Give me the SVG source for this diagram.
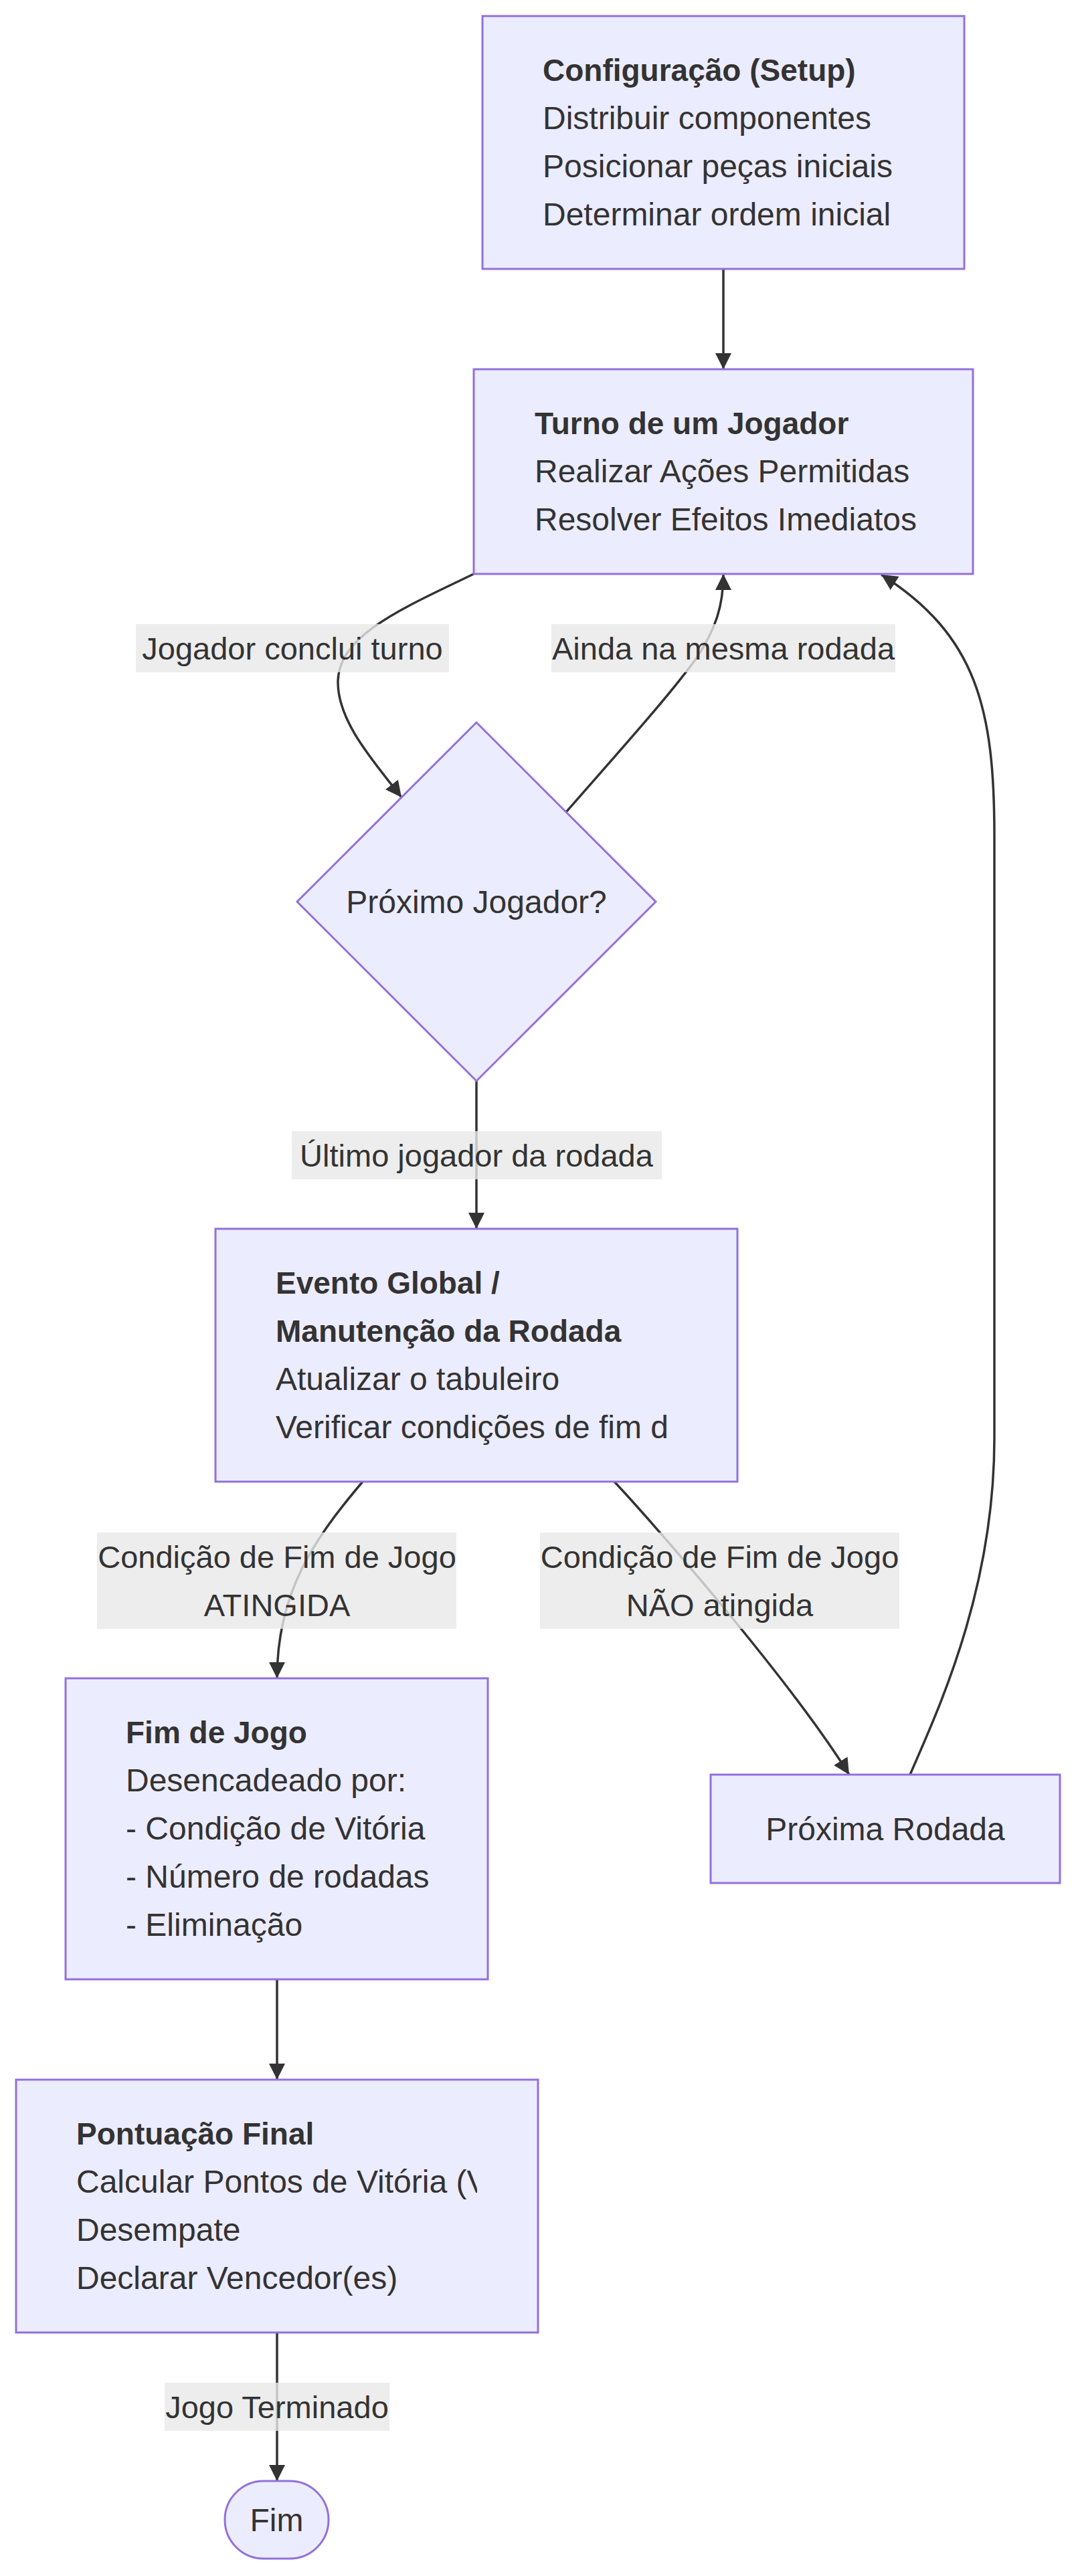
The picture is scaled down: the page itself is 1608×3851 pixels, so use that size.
<svg xmlns="http://www.w3.org/2000/svg" width="1608" height="3851" viewBox="0 0 1608 3851">
<style>
.node{fill:#ECECFF;stroke:#9370DB;stroke-width:3;}
.edge{fill:none;stroke:#333333;stroke-width:3.5;}
.lbl{fill:rgba(232,232,232,0.8);stroke:none;}
text{font-family:"Liberation Sans",Arial,sans-serif;font-size:48px;fill:#333333;}
.b{font-weight:bold;font-size:46px;}
.c{text-anchor:middle;}
.lt{font-size:47px;}
</style>
<defs>
<marker id="arrow" markerUnits="userSpaceOnUse" markerWidth="24" markerHeight="24" viewBox="0 0 10 10" refX="10" refY="5" orient="auto">
<path d="M0,0 L10,5 L0,10 z" fill="#333333"/>
</marker>
<clipPath id="clipPont"><rect x="24" y="3109" width="689" height="378"/></clipPath>
<clipPath id="clipEvt"><rect x="322" y="1837" width="691" height="378"/></clipPath>
</defs>
<rect width="1608" height="3851" fill="#ffffff"/>

<g id="connectors">
<path class="edge" d="M1081,402 L1081,552" marker-end="url(#arrow)"/>
<path class="edge" d="M708,858 C600,910 505,950 505,1020 C505,1080 560,1140 600,1192" marker-end="url(#arrow)"/>
<path class="edge" d="M846,1214 C930,1118 1000,1040 1040,985 C1070,940 1081,905 1081,858" marker-end="url(#arrow)"/>
<path class="edge" d="M712,1616 L712,1837" marker-end="url(#arrow)"/>
<path class="edge" d="M542,2215 C470,2300 414,2380 414,2509" marker-end="url(#arrow)"/>
<path class="edge" d="M918,2215 C970,2270 1180,2510 1269,2653" marker-end="url(#arrow)"/>
<path class="edge" d="M1360,2653 C1400,2560 1486,2380 1486,2150 L1486,1250 C1486,1060 1460,950 1317,859" marker-end="url(#arrow)"/>
<path class="edge" d="M414,2959 L414,3109" marker-end="url(#arrow)"/>
<path class="edge" d="M414,3488 L414,3709" marker-end="url(#arrow)"/>
</g>

<g id="edge-labels">
<g id="label-jogador-conclui">
<rect class="lbl" x="203" y="933" width="468" height="72"/>
<text class="c lt" x="437" y="986">Jogador conclui turno</text>
</g>
<g id="label-ainda">
<rect class="lbl" x="824" y="933" width="514" height="72"/>
<text class="c lt" x="1081" y="986">Ainda na mesma rodada</text>
</g>
<g id="label-ultimo">
<rect class="lbl" x="436" y="1691" width="553" height="72"/>
<text class="c lt" x="712" y="1744">Último jogador da rodada</text>
</g>
<g id="label-atingida">
<rect class="lbl" x="145" y="2291" width="537" height="144"/>
<text class="c lt" x="414" y="2344">Condição de Fim de Jogo</text>
<text class="c lt" x="414" y="2416">ATINGIDA</text>
</g>
<g id="label-nao-atingida">
<rect class="lbl" x="807" y="2291" width="537" height="144"/>
<text class="c lt" x="1075.5" y="2344">Condição de Fim de Jogo</text>
<text class="c lt" x="1075.5" y="2416">NÃO atingida</text>
</g>
<g id="label-terminado">
<rect class="lbl" x="246" y="3562" width="336" height="72"/>
<text class="c lt" x="414" y="3615">Jogo Terminado</text>
</g>
</g>

<g id="setup">
<rect class="node" x="721" y="24" width="720" height="378"/>
<text class="b" x="811" y="121">Configuração (Setup)</text>
<text x="811" y="193">Distribuir componentes</text>
<text x="811" y="265">Posicionar peças iniciais</text>
<text x="811" y="337">Determinar ordem inicial</text>
</g>

<g id="turno">
<rect class="node" x="708" y="552" width="746" height="306"/>
<text class="b" x="799" y="649">Turno de um Jogador</text>
<text x="799" y="721">Realizar Ações Permitidas</text>
<text x="799" y="793">Resolver Efeitos Imediatos</text>
</g>

<g id="proximo-jogador">
<polygon class="node" points="712,1080 980,1348 712,1616 444,1348"/>
<text class="c" x="712" y="1365">Próximo Jogador?</text>
</g>

<g id="evento-global">
<rect class="node" x="322" y="1837" width="780" height="378"/>
<text class="b" x="412" y="1934">Evento Global /</text>
<text class="b" x="412" y="2006">Manutenção da Rodada</text>
<text x="412" y="2078">Atualizar o tabuleiro</text>
<text x="412" y="2150" clip-path="url(#clipEvt)">Verificar condições de fim d</text>
</g>

<g id="fim-de-jogo">
<rect class="node" x="98" y="2509" width="631" height="450"/>
<text class="b" x="188" y="2606">Fim de Jogo</text>
<text x="188" y="2678">Desencadeado por:</text>
<text x="188" y="2750">- Condição de Vitória</text>
<text x="188" y="2822">- Número de rodadas</text>
<text x="188" y="2894">- Eliminação</text>
</g>

<g id="proxima-rodada">
<rect class="node" x="1062" y="2653" width="522" height="162"/>
<text class="c" x="1323" y="2751">Próxima Rodada</text>
</g>

<g id="pontuacao-final">
<rect class="node" x="24" y="3109" width="780" height="378"/>
<text class="b" x="114" y="3206">Pontuação Final</text>
<text x="114" y="3278" clip-path="url(#clipPont)">Calcular Pontos de Vitória (V</text>
<text x="114" y="3350">Desempate</text>
<text x="114" y="3422">Declarar Vencedor(es)</text>
</g>

<g id="fim">
<rect class="node" x="336" y="3709" width="155" height="116" rx="58" ry="58"/>
<text class="c" x="413.5" y="3784">Fim</text>
</g>
</svg>
